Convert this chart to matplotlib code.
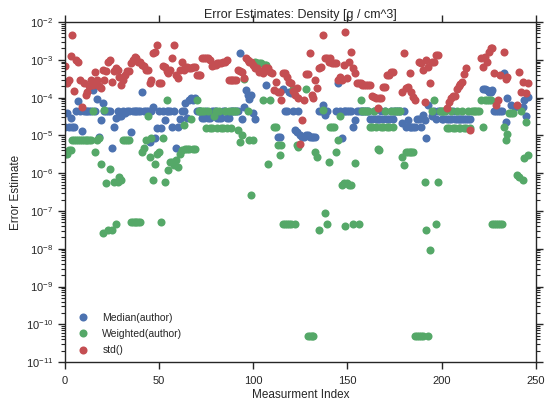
import numpy as np
import matplotlib
matplotlib.use('Agg')
import matplotlib.pyplot as plt
from matplotlib.ticker import LogLocator, NullLocator

n = np.nan

# Median(author) error estimate per measurement
median = [
    1.7e-5, 4e-5, 1.7e-5, 2.9e-5, 1.7e-5, 1.7e-5, 4.5e-5, 8e-5, 4.5e-5, 1.3e-5,
    4.5e-5, 4.5e-5, 4.5e-5, 4.5e-5, 4.5e-5, 1.6e-4, 4.5e-5, 9e-5, 9e-6, 2.5e-5,
    7e-5, 4.5e-5, 4.5e-5, 4.5e-5, 4.5e-5, 4.6e-6, 1.7e-5, 2.9e-5, 4.5e-5, 3.2e-5,
    3.2e-5, 4.5e-5, 3.9e-5, 4.5e-5, 4.5e-5, 1.2e-5, 4.5e-5, 4.5e-5, 4.5e-5, 4.5e-5,
    4.5e-5, 1.4e-4, 4.5e-5, 4.5e-5, 4.5e-5, 6.8e-6, 4.5e-5, 5.5e-5, 8.5e-6, 1.6e-5,
    4.5e-5, 1.6e-5, 4.5e-5, 2.5e-5, 4.5e-5, 4.5e-5, 4.5e-5, 1.7e-5, 4.5e-5, 4.6e-6,
    1.7e-5, 2.8e-5, 4.5e-5, 4.5e-5, 7e-5, 2.9e-5, 8.7e-5, 1e-4, 8.7e-5, 1e-4,
    4.5e-5, 4.5e-5, 4.5e-5, 2.9e-5, 2.9e-5, 4.5e-5, 2.9e-5, 2.9e-5, 4.5e-5, 4.5e-5,
    4.5e-5, 2.9e-5, 2.9e-5, 2.9e-5, 4.5e-5, 4.5e-5, 2.9e-5, 2.9e-5, 4.5e-5, 4.5e-5,
    4.5e-5, 4.5e-5, 4.5e-5, 1.5e-3, 2.8e-5, 5.7e-5, 1.6e-4, 1.2e-4, 9e-5, 1.2e-4,
    3.8e-5, 2.8e-5, n, n, n, n, n, 2.1e-4, n, n,
    n, n, n, 9e-6, 9e-6, n, 1.7e-4, 4.3e-5, 4.3e-5, 1.45e-4,
    1.3e-4, 4.3e-5, 1.4e-5, 1.2e-5, 4.3e-5, 1e-5, 9e-6, 9e-6, 1e-5, 1e-5,
    9e-6, 9e-6, 9e-6, 9e-6, n, 4.3e-5, 4.3e-5, 6.3e-5, 3.5e-5, 4.3e-5,
    n, n, n, n, 4.3e-5, 2.4e-4, 4.3e-5, 8.5e-6, 4.3e-5, 4.3e-5,
    4.3e-5, 4.3e-5, 4.3e-5, 1.7e-5, 2.5e-5, 4.3e-5, 4.3e-5, 4.3e-5, 4.3e-5, 4.3e-5,
    4.3e-5, 4.3e-5, 2.8e-5, 2.8e-5, 4.3e-5, 2.8e-5, 2.8e-5, 2.8e-5, 4.3e-5, 2.8e-5,
    4.3e-5, 2.8e-5, 2.8e-5, 4.3e-5, 2.8e-5, 4.3e-5, 4.3e-5, 4.3e-5, 4.3e-5, 2.1e-5,
    4.3e-5, 1.7e-5, 2.5e-5, 1.7e-5, 1.7e-5, 1.7e-5, 1.7e-5, 2.8e-5, 2.8e-5, 1.7e-5,
    3.5e-5, 2.5e-5, 8.3e-6, 6.3e-5, n, 3.2e-5, 4.3e-5, 2.8e-5, 4.3e-5, 4.3e-5,
    2.8e-5, 2.8e-5, 4.3e-5, 2.8e-5, 2.8e-5, 2.8e-5, 4.3e-5, 2.8e-5, 2.8e-5, 2.8e-5,
    2.8e-5, 2.8e-5, 2.8e-5, 2.8e-5, 2.8e-5, 2.8e-5, n, n, n, n,
    n, n, 1.7e-4, 1.7e-4, 1.6e-4, 1.45e-4, 1.45e-4, 1.6e-4, 4.3e-5, 4.3e-5,
    4.3e-5, 4.3e-5, 4.3e-5, 4.4e-4, 2.3e-5, 9.5e-5, n, 6.3e-5, n, 5.8e-5,
    n, n, n, 5.8e-5, 8.7e-5, 3.2e-5, 1.05e-4,
]

# Weighted(author) error estimate per measurement
weighted = [
    3.3e-6, 3.3e-6, 4e-6, 4e-6, 7.6e-6, 7.6e-6, 7.6e-6, 7.6e-6, 7.6e-6, 7.6e-6,
    7.6e-6, 7.6e-6, 7.6e-6, 7.6e-6, 7.6e-6, 4.5e-5, 3.7e-6, 7.6e-6, 8.5e-6, 1.8e-6,
    2.6e-8, 4.7e-5, 5.4e-7, 3.2e-8, 1.3e-6, 3.2e-8, 5.9e-7, 4.5e-8, 5.9e-7, 8e-7,
    6.6e-7, 7.6e-6, 7.6e-6, 7.6e-6, 7.6e-6, 5e-8, 5e-8, 5e-8, 5e-8, 5e-8,
    5e-8, 3.7e-6, 4.6e-6, 7.6e-6, 3.2e-5, 2.7e-6, 8.3e-6, 6.6e-7, 1.8e-6, 3.3e-6,
    3.7e-6, 5e-8, 8.3e-6, 5.9e-7, 8.7e-5, 1.2e-6, 2e-6, 2e-6, 1.6e-6, 2.2e-6,
    1.5e-6, 3.3e-6, 4e-6, 1.9e-5, 4.5e-6, 4.5e-6, 4.5e-6, 2.8e-5, 4.5e-6, 4.5e-6,
    8.7e-5, 4.5e-5, 4.5e-5, 4.5e-5, 4.5e-5, 1.6e-5, 4.5e-5, 1.6e-5, 1.6e-5, 3.2e-5,
    4.5e-5, 1.6e-5, 4.5e-5, 1.6e-5, 1.6e-5, 4.5e-5, 1.6e-5, 4.5e-5, 1.6e-5, 4.5e-5,
    4.5e-5, 4.5e-5, 1.4e-5, 6.8e-6, 1e-5, 3.2e-4, n, 4.3e-5, 7.6e-6, 2.6e-7,
    7.6e-6, 9e-4, 8.5e-4, 8e-4, 8e-4, 8.7e-5, 7.2e-4, 7.2e-4, 1.8e-6, 8.7e-5,
    n, 1.7e-5, 1.7e-5, 5.5e-6, 3e-6, 5.5e-6, 4.5e-8, 4.5e-8, 4.5e-8, 4.5e-8,
    4.5e-8, 1.7e-4, 4.5e-8, 5.5e-6, 5e-6, n, n, n, 1.7e-4, 5e-11,
    5e-11, 5e-11, 5e-11, 3.7e-6, 2.7e-6, 3.2e-8, n, 4.7e-5, 8.7e-8, 4.5e-8,
    2e-6, 1.7e-5, 1.7e-5, 1.7e-5, 3.7e-6, 7.6e-6, 3.2e-5, 4.9e-7, 5.4e-7, 4e-8,
    5.4e-7, 4.9e-7, 4.9e-7, 4.5e-8, 1.9e-6, n, 4.5e-8, 8.7e-5, 4.3e-5, 4.3e-5,
    4.3e-5, 4.3e-5, 1.7e-5, 1.7e-5, 4.3e-5, 1.7e-5, 4.3e-6, 4e-6, 1.7e-5, 1.7e-5,
    4.3e-5, 1.7e-5, 1.7e-5, 4.3e-5, 1.7e-5, 4.3e-5, 4.3e-5, 4.3e-5, 4.3e-5, 2.7e-6,
    1.6e-6, 3.7e-6, 3.7e-6, 3.7e-6, 3.7e-6, 3.7e-6, 5e-11, 5e-11, 5e-11, 5e-11,
    5e-11, 5.9e-7, 3.2e-8, 5e-11, 9.3e-9, 4.3e-5, 8.7e-5, 4.5e-8, 5.9e-7, 4.3e-5,
    4.3e-5, 4.3e-5, 4.3e-5, 1.6e-5, 1.6e-5, 4.3e-5, 1.6e-5, 1.6e-5, 4.3e-5, 1.6e-5,
    1.6e-5, 4.3e-5, 1.6e-5, 1.6e-5, 4.3e-5, 1.6e-5, 4.3e-5, 4.3e-5, 4.3e-5, 4.3e-5,
    4.3e-5, 8.7e-5, 1.7e-5, 8.4e-5, 8.4e-5, 8.4e-5, 8.4e-5, 4.5e-8, 4.5e-8, 4.5e-8,
    4.5e-8, 4.5e-8, 4.5e-8, 1.7e-5, 7.6e-6, 1.1e-5, 3.8e-5, 3.8e-5, 3.8e-5, n,
    8.9e-7, 8e-7, 4.3e-5, 6.6e-7, 2.5e-6, 2.3e-5, 3e-6,
]

# std() per measurement
std = [
    7e-4, 2.5e-4, 3e-4, 1.3e-3, 4.6e-3, 1.5e-4, 1e-3, 9e-4, 3e-4, 5.7e-5,
    2.5e-4, 1.2e-4, 1.4e-4, 2e-4, 3e-4, 2.1e-4, 4.8e-4, 3e-4, 2e-4, 1.8e-4,
    5.4e-4, 3e-4, 5e-4, 9e-4, 1e-3, 2.6e-4, 5e-4, 6e-4, 5.4e-4, 3.5e-4,
    2.1e-4, 3e-4, 4e-4, 5e-4, 5e-4, 8e-4, 1e-3, 1.2e-3, 1.1e-3, 9e-4,
    8.7e-4, 7.5e-4, 7e-4, 5.5e-4, 5.4e-4, 2.5e-4, 3e-4, 1.5e-3, 1.6e-3, 2.5e-3,
    2.5e-4, 2.5e-4, 7e-4, 6.5e-4, 5e-4, 4.5e-4, 5.4e-4, 1.1e-3, 2.5e-3, 4e-4,
    3.3e-4, 5.4e-4, 8.7e-4, 5.5e-4, 6.5e-4, 6.5e-4, 6e-4, 6e-4, 6.5e-4, 6.5e-4,
    4e-4, 4e-4, 4e-4, 1.1e-3, 1.1e-3, 1.1e-3, 1.1e-3, 1e-3, 7e-4, 7.2e-4,
    7.5e-4, 8e-4, 8.1e-4, 8.5e-4, 8.7e-4, 8.7e-4, 1e-3, 2.9e-4, 2.9e-4, 3e-4,
    2.9e-4, 2.9e-4, 5.4e-4, 5e-4, 4.8e-4, 3.3e-4, 1.1e-3, 1e-3, 9e-4, 8.9e-4,
    7.2e-4, 6e-4, 6e-4, 4.8e-4, 5e-4, 4.5e-4, 6e-4, 6e-4, 6e-4, 4.8e-4,
    4.5e-4, 1.6e-4, 2.6e-4, 1.4e-4, 1.4e-4, 8.7e-5, 4.5e-4, 4.5e-4, 3.5e-4, 2.6e-4,
    2.5e-4, 1.5e-4, 1.2e-4, 1.8e-4, 1e-4, 6e-6, 2.5e-5, 8.7e-5, 4.2e-4, 4.3e-4,
    1.5e-3, 1.2e-4, 1e-4, 3e-4, 1.8e-4, 6e-4, 6.5e-4, 4.6e-3, 1.1e-3, 1.1e-3,
    9e-4, 1.1e-3, 8e-4, 8e-4, 8e-4, 2.9e-4, 3.5e-4, 2.9e-4, 7.2e-4, 5.5e-3,
    3.3e-4, 8.9e-4, 1.6e-3, 6e-4, 4.5e-4, 2.5e-4, 2.5e-4, 2.5e-4, 2.2e-4, 2.2e-4,
    2.2e-4, 2.1e-4, 2.1e-4, 1.1e-4, 1.05e-4, 1e-4, 5.2e-5, 1e-4, 1e-4, 1.9e-4,
    1.9e-4, 4e-4, 4e-4, 4.8e-4, 4.8e-4, n, n, n, n, 1.45e-4,
    1.5e-3, 1.8e-4, 1.9e-4, 4.5e-4, 1.45e-4, 1.05e-4, 8.7e-5, n, 8.9e-4, 8e-4,
    5.4e-4, 7.8e-5, 1e-3, 6.6e-4, 2.5e-4, 8.9e-4, 8.9e-4, 1.35e-3, 1.35e-3, n,
    n, n, n, 5.2e-5, 7.8e-5, 1e-4, 1.1e-4, 1.1e-4, 1.7e-4, 2e-4,
    2.3e-4, 2.6e-4, 4.3e-4, 5.9e-4, n, 1.4e-5, n, n, n, n,
    n, 1.1e-3, 6.6e-4, 1.2e-3, 8.9e-4, 1.6e-3, 2e-3, 2e-3, 4.4e-4, 6.3e-5,
    8.7e-5, 4e-4, n, 1.6e-3, 3.2e-4, 3.5e-4, n, n, n, n,
    6.3e-5, 4.8e-4, 1.45e-4, 2.6e-4, n, 1.3e-4, 2.4e-4,
]

assert len(median) == len(weighted) == len(std), (len(median), len(weighted), len(std))
idx = np.arange(len(std))

plt.rcParams['font.family'] = ['Liberation Sans', 'DejaVu Sans']
plt.rcParams['mathtext.default'] = 'regular'
plt.rcParams['text.color'] = '.15'
plt.rcParams['axes.labelcolor'] = '.15'

fig = plt.figure(figsize=(5.45, 4.01), dpi=100)
ax = fig.add_axes([0.119, 0.097, 0.864, 0.848])

ms = 5.8
ax.plot(idx, median, 'o', color='#4C72B0', ms=ms, mew=0, label='Median(author)')
ax.plot(idx, weighted, 'o', color='#55A868', ms=ms, mew=0, label='Weighted(author)')
ax.plot(idx, std, 'o', color='#C44E52', ms=ms, mew=0, label='std()')

ax.set_yscale('log')
ax.set_ylim(1e-11, 1e-2)
ax.set_xlim(0, 250)
ax.yaxis.set_major_locator(LogLocator(base=10, numticks=20))
ax.yaxis.set_minor_locator(LogLocator(base=10, subs=np.arange(2, 10), numticks=20))
ax.xaxis.set_minor_locator(NullLocator())

for s in ax.spines.values():
    s.set_color('.15')
    s.set_linewidth(1.0)
ax.tick_params(which='both', direction='out', top=True, right=True,
               color='.15', labelcolor='.15', labelsize=8)
ax.tick_params(which='major', length=5, width=1)
ax.tick_params(which='minor', length=3, width=0.8)
ax.tick_params(axis='x', pad=5)

ax.set_title('Error Estimates: Density [g / cm^3]', fontsize=9, pad=3)
ax.set_xlabel('Measurment Index', fontsize=8.5, labelpad=2.5)
ax.set_ylabel('Error Estimate', fontsize=8.5, labelpad=3)

ax.legend(loc='lower left', frameon=False, numpoints=1, fontsize=7.5,
          handlelength=1.2, handletextpad=1.3, borderaxespad=0.25,
          labelspacing=0.6, bbox_to_anchor=(0.01, 0.0))

fig.savefig('out.png', dpi=100)
